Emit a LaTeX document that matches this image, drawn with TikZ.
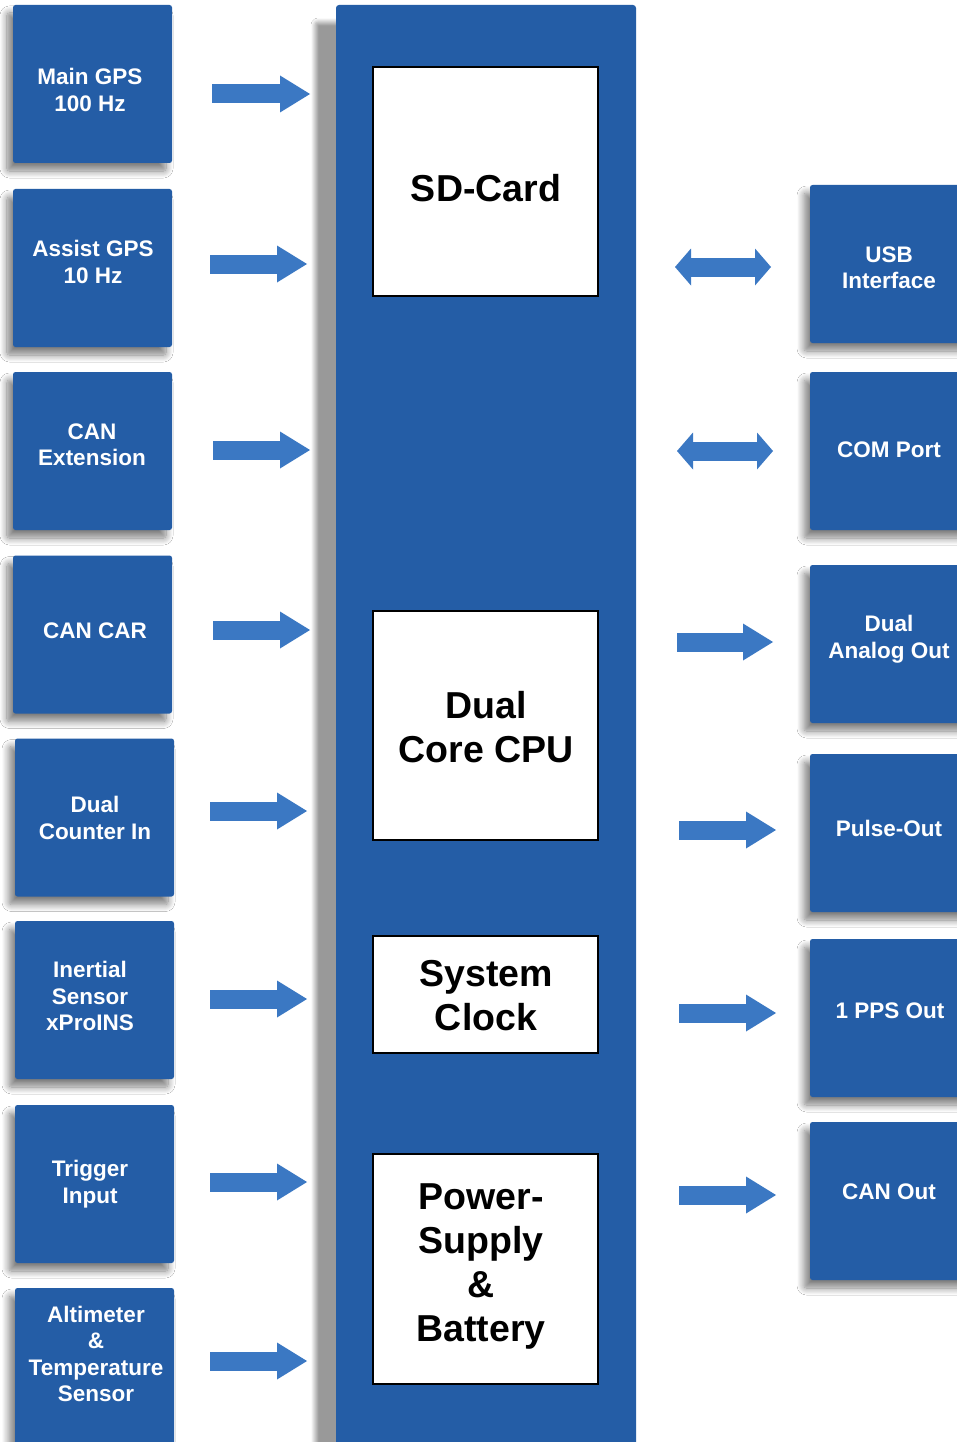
\documentclass[tikz,border=0pt]{standalone}
\usepackage{fontspec}
\setmainfont{Liberation Sans}
\usetikzlibrary{shadows.blur,arrows.meta}
\definecolor{boxblue}{RGB}{36,93,166}
\definecolor{arrblue}{RGB}{59,120,195}
\begin{document}
\begin{tikzpicture}[x=1pt,y=-1pt,
  sbox/.style={fill=boxblue, rounded corners=2.5pt, minimum width=159pt, minimum height=158pt, inner sep=0pt,
    blur shadow={shadow xshift=-6pt, shadow yshift=-8pt, shadow blur radius=7pt, shadow blur steps=10, shadow opacity=50}},
  stext/.style={text=white, font=\bfseries\fontsize{22.5}{26.5}\selectfont, align=center, inner sep=0pt},
  colbox/.style={fill=boxblue, rounded corners=3pt, minimum width=300pt, minimum height=1446pt, inner sep=0pt,
    blur shadow={shadow xshift=-21pt, shadow yshift=-17pt, shadow blur radius=4pt, shadow blur steps=8, shadow opacity=40}},
  ibox/.style={fill=white, draw=black, line width=2pt, inner sep=0pt, minimum width=225pt},
  itext/.style={font=\bfseries\fontsize{37.5}{44}\selectfont, align=center, inner sep=0pt},
  arr/.style={draw=arrblue, line width=19pt, -{Triangle[length=30pt,width=37pt,line width=0pt]}},
  darr/.style={draw=arrblue, line width=19pt, {Triangle[length=16pt,width=37pt,line width=0pt]}-{Triangle[length=16pt,width=37pt,line width=0pt]}}
]
\useasboundingbox[fill=white] (0,0) rectangle (957,1442);

% central column
\node[colbox] (col) at (486,728) {};
\node[ibox, minimum height=229pt] (sd) at (485.5,181.5) {};
\node[itext] (sdt) at (486,188) {SD-Card};
\node[ibox, minimum height=229pt] (cpu) at (485.5,725.5) {};
\node[itext] (cput) at (486,727) {Dual\\Core CPU};
\node[ibox, minimum height=117pt] (clk) at (485.5,994.5) {};
\node[itext] (clkt) at (486,996) {System\\Clock};
\node[ibox, minimum height=230pt] (pwr) at (485.5,1269) {};
\node[itext] (pwrt) at (481,1266) {Power-\\Supply\\\&\\Battery};

% left boxes
\node[sbox] (l1) at (92.5,84) {};
\node[stext] (t1) at (90,90) {Main GPS\\100 Hz};
\node[sbox] (l2) at (92.5,268) {};
\node[stext] (t2) at (93,262) {Assist GPS\\10 Hz};
\node[sbox] (l3) at (92.5,451) {};
\node[stext] (t3) at (92,445) {CAN\\Extension};
\node[sbox] (l4) at (92.5,634.5) {};
\node[stext] (t4) at (95,631) {CAN CAR};
\node[sbox] (l5) at (94.5,817.5) {};
\node[stext] (t5) at (95,818) {Dual\\Counter In};
\node[sbox] (l6) at (94.5,1000) {};
\node[stext] (t6) at (90,996) {Inertial\\Sensor\\xProINS};
\node[sbox] (l7) at (94.5,1184) {};
\node[stext] (t7) at (90,1184) {Trigger\\Input};
\node[sbox] (l8) at (94.5,1367) {};
\node[stext] (t8) at (96,1354) {Altimeter\\\&\\Temperature\\Sensor};

% right boxes
\node[sbox, minimum width=160pt] (r1) at (890,264) {};
\node[stext] (u1) at (889,268) {USB\\Interface};
\node[sbox, minimum width=160pt] (r2) at (890,451) {};
\node[stext] (u2) at (889,450) {COM Port};
\node[sbox, minimum width=160pt] (r3) at (890,644) {};
\node[stext] (u3) at (889,639) {Dual\\Analog Out};
\node[sbox, minimum width=160pt] (r4) at (890,833) {};
\node[stext] (u4) at (889,828) {Pulse-Out};
\node[sbox, minimum width=160pt] (r5) at (890,1018) {};
\node[stext] (u5) at (890,1011) {1 PPS Out};
\node[sbox, minimum width=160pt] (r6) at (890,1201) {};
\node[stext] (u6) at (889,1192) {CAN Out};

% arrow end points
\coordinate (a1s) at (212,94);   \coordinate (a1e) at (310,94);
\coordinate (a2s) at (210,264);  \coordinate (a2e) at (307,264);
\coordinate (a3s) at (213,450);  \coordinate (a3e) at (310,450);
\coordinate (a4s) at (213,630);  \coordinate (a4e) at (310,630);
\coordinate (a5s) at (210,811);  \coordinate (a5e) at (307,811);
\coordinate (a6s) at (210,999);  \coordinate (a6e) at (307,999);
\coordinate (a7s) at (210,1182); \coordinate (a7e) at (307,1182);
\coordinate (a8s) at (210,1361); \coordinate (a8e) at (307,1361);
\coordinate (b1s) at (675,267);  \coordinate (b1e) at (771,267);
\coordinate (b2s) at (677,451);  \coordinate (b2e) at (773,451);
\coordinate (b3s) at (677,642);  \coordinate (b3e) at (773,642);
\coordinate (b4s) at (679,830);  \coordinate (b4e) at (776,830);
\coordinate (b5s) at (679,1013); \coordinate (b5e) at (776,1013);
\coordinate (b6s) at (679,1195); \coordinate (b6e) at (776,1195);

\foreach \i in {1,...,8} { \draw[arr] (a\i s) -- (a\i e); }
\draw[darr] (b1s) -- (b1e);
\draw[darr] (b2s) -- (b2e);
\foreach \i in {3,...,6} { \draw[arr] (b\i s) -- (b\i e); }
\end{tikzpicture}
\end{document}
